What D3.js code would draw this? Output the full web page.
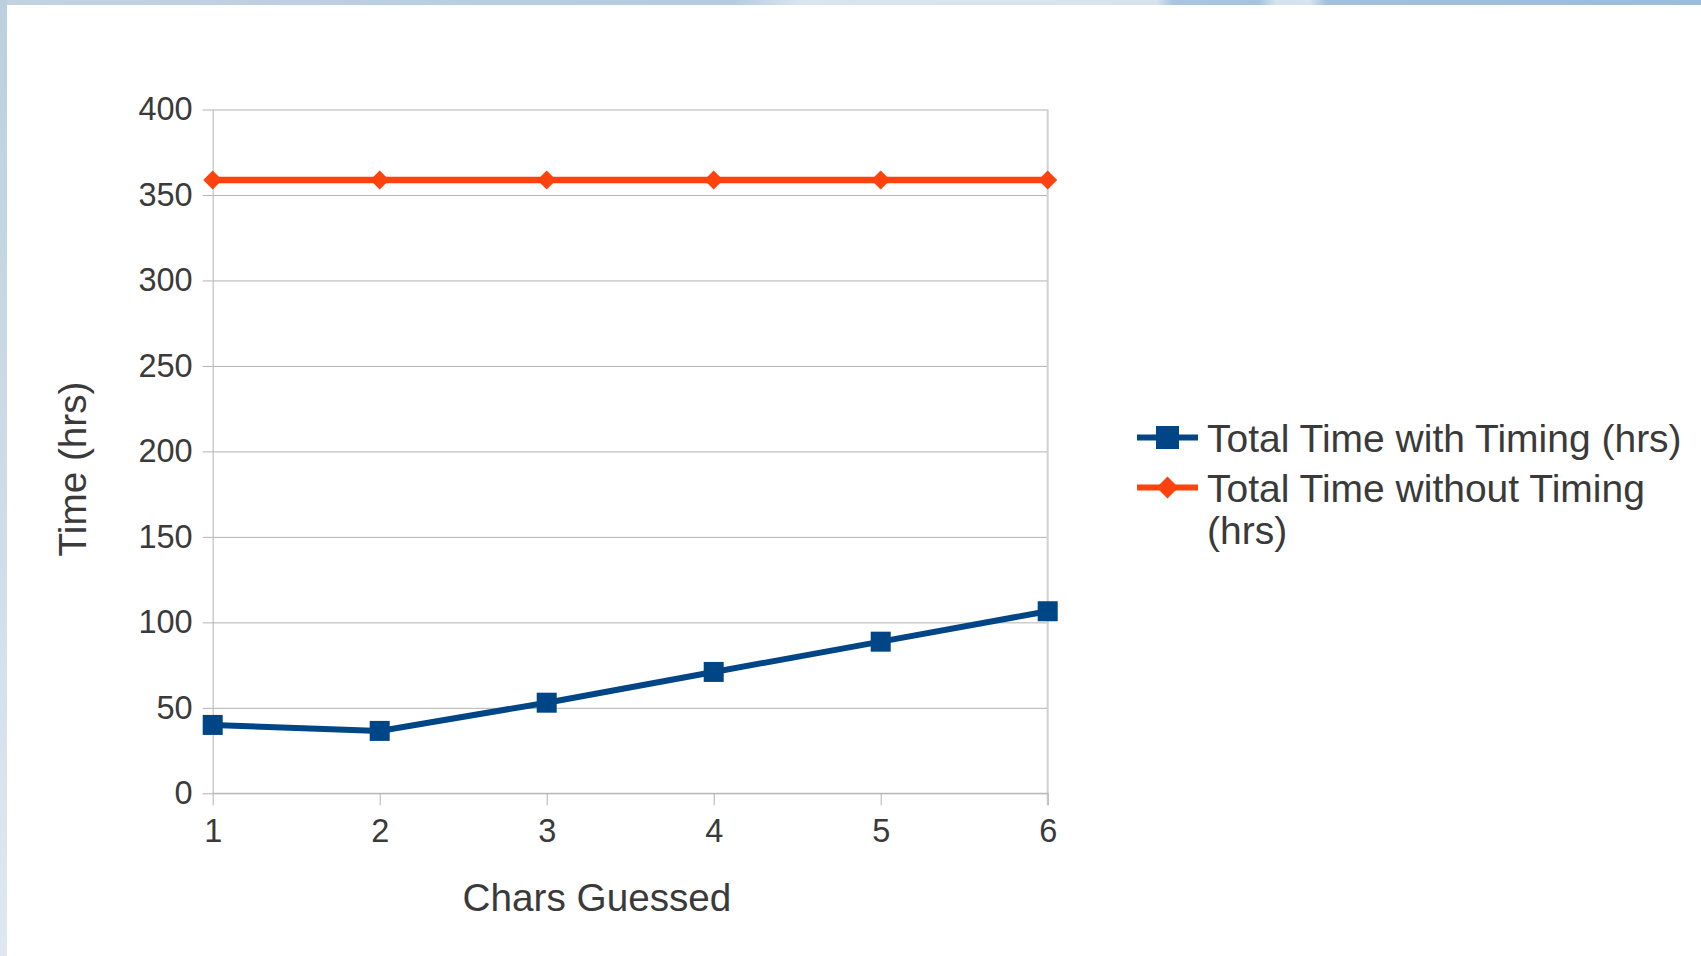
<!DOCTYPE html>
<html>
<head>
<meta charset="utf-8">
<script src="https://cdn.jsdelivr.net/npm/d3@7"></script>
<style>
  html, body { margin: 0; padding: 0; background: #fff; }
  svg { display: block; }
  text { font-family: "Liberation Sans", Arial, sans-serif; fill: #3a3a3a; }
</style>
</head>
<body>
<svg id="chart" width="1701" height="956"></svg>
<script>
// ---- data ----
const categories = [1, 2, 3, 4, 5, 6];
const withTiming = [40, 36.5, 53, 71, 88.7, 106.5];
const withoutTiming = [358.7, 358.7, 358.7, 358.7, 358.7, 358.7];
const yTicks = [0, 50, 100, 150, 200, 250, 300, 350, 400];
const seriesNames = ["Total Time with Timing (hrs)", "Total Time without Timing (hrs)"];
const xTitle = "Chars Guessed";
const yTitle = "Time (hrs)";

// ---- layout ----
const W = 1701, H = 956;
const pLeft = 212.7, pRight = 1047.7, pTop = 109.5, pBottom = 793.3;
const blue = "#004586", orange = "#ff420e", grid = "#b3b3b3";

const svg = d3.select("#chart");
const defs = svg.append("defs");

// decorative slide background
const gTop = defs.append("linearGradient").attr("id", "gTop");
[["0%", "#c1d3e1"], ["43%", "#b4cbe0"], ["47%", "#d8e5f0"], ["68%", "#d6e3ef"], ["69%", "#a8c4de"],
 ["74%", "#a6c2dd"], ["75%", "#d5e3ef"], ["77%", "#d5e3ef"], ["78%", "#a3c0dd"], ["100%", "#9bbcdc"]]
  .forEach(s => gTop.append("stop").attr("offset", s[0]).attr("stop-color", s[1]));
const gLeft = defs.append("linearGradient").attr("id", "gLeft")
  .attr("x1", 0).attr("y1", 0).attr("x2", 0).attr("y2", 1);
gLeft.append("stop").attr("offset", "0%").attr("stop-color", "#bccfde");
gLeft.append("stop").attr("offset", "100%").attr("stop-color", "#dfe8f0");

svg.append("rect").attr("x", 0).attr("y", 0).attr("width", W).attr("height", 5).attr("fill", "url(#gTop)");
svg.append("rect").attr("x", 0).attr("y", 0).attr("width", 7).attr("height", H).attr("fill", "url(#gLeft)");

// ---- scales ----
const x = d3.scalePoint().domain(categories).range([pLeft, pRight]);
const y = d3.scaleLinear().domain([0, 400]).range([pBottom, pTop]);

// gridlines
const gridAxis = svg.append("g").attr("transform", `translate(${pLeft},0)`)
  .call(d3.axisLeft(y).tickValues(yTicks).tickSize(-(pRight - pLeft)).tickFormat(""));
gridAxis.select(".domain").remove();
gridAxis.selectAll("line").attr("stroke", grid).attr("stroke-width", 1);

// y axis with ticks and labels
const yAxis = svg.append("g").attr("transform", `translate(${pLeft},0)`)
  .call(d3.axisLeft(y).tickValues(yTicks).tickSize(10).tickPadding(10).tickSizeOuter(0));
yAxis.select(".domain").attr("stroke", grid);
yAxis.selectAll("line").attr("stroke", grid);
yAxis.selectAll("text").attr("font-size", 32.5).attr("fill", "#3a3a3a")
  .style("font-family", "'Liberation Sans', Arial, sans-serif");

// right border
svg.append("line").attr("x1", pRight).attr("x2", pRight).attr("y1", pTop).attr("y2", pBottom + 12)
  .attr("stroke", "#d0d0d0").attr("stroke-width", 2);

// x axis
const xAxis = svg.append("g").attr("transform", `translate(0,${pBottom})`)
  .call(d3.axisBottom(x).tickSize(12).tickPadding(14).tickSizeOuter(0));
xAxis.select(".domain").attr("stroke", grid).attr("d", `M${pLeft},0H${pRight}`);
xAxis.selectAll("line").attr("stroke", grid);
xAxis.selectAll("text").attr("font-size", 32.5).attr("fill", "#3a3a3a")
  .style("font-family", "'Liberation Sans', Arial, sans-serif");

// axis titles
svg.append("text").attr("x", 597).attr("y", 911).attr("text-anchor", "middle")
  .attr("font-size", 38.7).text(xTitle);
svg.append("text").attr("transform", `translate(86,469) rotate(-90)`).attr("text-anchor", "middle")
  .attr("font-size", 38.7).text(yTitle);

// ---- series ----
const line = d3.line().x((d, i) => x(categories[i])).y(d => y(d));
const diamond = r => `M0,${-r}L${r},0L0,${r}L${-r},0Z`;

svg.append("path").datum(withoutTiming).attr("d", line)
  .attr("fill", "none").attr("stroke", orange).attr("stroke-width", 6.5);
svg.append("g").selectAll("path").data(withoutTiming).join("path")
  .attr("transform", (d, i) => `translate(${x(categories[i])},${y(d)})`)
  .attr("d", diamond(9.5)).attr("fill", orange);

svg.append("path").datum(withTiming).attr("d", line)
  .attr("fill", "none").attr("stroke", blue).attr("stroke-width", 6);
svg.append("g").selectAll("rect").data(withTiming).join("rect")
  .attr("x", (d, i) => x(categories[i]) - 10).attr("y", d => y(d) - 10)
  .attr("width", 20).attr("height", 20).attr("fill", blue);

// ---- legend ----
const lg = svg.append("g");
const lx1 = 1137, lx2 = 1198, ltx = 1207;
lg.append("line").attr("x1", lx1).attr("x2", lx2).attr("y1", 437.5).attr("y2", 437.5)
  .attr("stroke", blue).attr("stroke-width", 6);
lg.append("rect").attr("x", (lx1 + lx2) / 2 - 11.5).attr("y", 437.5 - 11.5)
  .attr("width", 23).attr("height", 23).attr("fill", blue);
lg.append("text").attr("x", ltx).attr("y", 451.5).attr("font-size", 39).text(seriesNames[0]);
lg.append("line").attr("x1", lx1).attr("x2", lx2).attr("y1", 487.5).attr("y2", 487.5)
  .attr("stroke", orange).attr("stroke-width", 6);
lg.append("path").attr("transform", `translate(${(lx1 + lx2) / 2},487.5)`)
  .attr("d", diamond(11)).attr("fill", orange);
const t2 = lg.append("text").attr("x", ltx).attr("y", 501.5).attr("font-size", 39);
t2.append("tspan").attr("x", ltx).text("Total Time without Timing");
t2.append("tspan").attr("x", ltx).attr("dy", 42.5).text("(hrs)");
</script>
</body>
</html>
